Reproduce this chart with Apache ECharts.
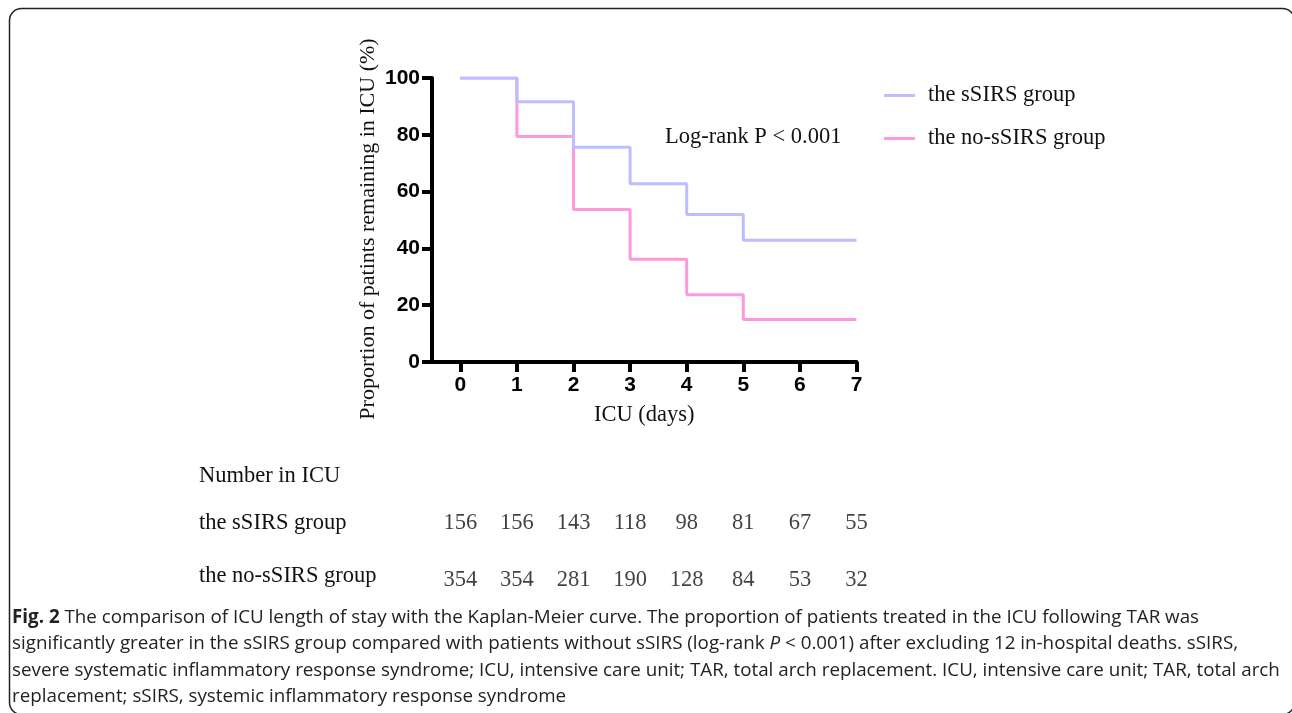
<!DOCTYPE html>
<html>
<head>
<meta charset="utf-8">
<script src="https://cdn.jsdelivr.net/npm/echarts@6/dist/echarts.min.js"></script>
<style>
html, body { margin: 0; padding: 0; background: #fff; }
#chart { width: 1292px; height: 713px; }
</style>
</head>
<body>
<div id="chart"></div>
<script>
// Kaplan-Meier: proportion still in ICU (%)
var days = [0, 1, 2, 3, 4, 5, 6, 7];
var ssirsCurve = [[0, 100], [1, 91.6], [2, 75.6], [3, 62.8], [4, 51.9], [5, 42.9], [7, 42.9]];
var noSsirsCurve = [[0, 100], [1, 79.4], [2, 53.7], [3, 36.2], [4, 23.7], [5, 15.0], [7, 15.0]];

// number at risk
var groups = ['the no-sSIRS group', 'the sSIRS group'];
var ssirsAtRisk = [156, 156, 143, 118, 98, 81, 67, 55];
var noSsirsAtRisk = [354, 354, 281, 190, 128, 84, 53, 32];

var serif = '"Liberation Serif", "Times New Roman", serif';
var sans = '"Liberation Sans", Arial, sans-serif';
var captionFont = '"Open Sans", sans-serif';

var captionLines = [
    '{b|Fig. 2} The comparison of ICU length of stay with the Kaplan-Meier curve. The proportion of patients treated in the ICU following TAR was',
    'significantly greater in the sSIRS group compared with patients without sSIRS (log-rank {i|P} < 0.001) after excluding 12 in-hospital deaths. sSIRS,',
    'severe systematic inflammatory response syndrome; ICU, intensive care unit; TAR, total arch replacement. ICU, intensive care unit; TAR, total arch',
    'replacement; sSIRS, systemic inflammatory response syndrome'
];

var atRiskPoints = function(values, row) {
    return values.map(function(v, i) {
        return { value: [days[i], row], label: { formatter: String(v) } };
    });
};

var chart = echarts.init(document.getElementById('chart'));

var option = {
    animation: false,
    backgroundColor: '#fff',
    legend: {
        data: ['the sSIRS group', 'the no-sSIRS group'],
        orient: 'vertical',
        left: 879,
        top: 79,
        icon: 'rect',
        itemWidth: 31,
        itemHeight: 3,
        itemGap: 20,
        textStyle: { fontFamily: serif, fontSize: 22.5, color: '#111', padding: [0, 0, 0, 8] }
    },
    grid: [
        { left: 432, top: 78, width: 424.5, height: 284 },
        { left: 432, top: 497, width: 424.5, height: 106 }
    ],
    xAxis: [
        {
            gridIndex: 0,
            type: 'value',
            min: -0.5,
            max: 7,
            splitLine: { show: false },
            axisLine: { onZero: false, lineStyle: { color: '#000', width: 4 } },
            axisTick: { customValues: days, length: 10, lineStyle: { color: '#000', width: 4 } },
            axisLabel: {
                customValues: days,
                color: '#000', fontFamily: sans, fontWeight: 'bold', fontSize: 21, margin: 13
            },
            name: 'ICU (days)',
            nameLocation: 'middle',
            nameGap: 42,
            nameTextStyle: { fontFamily: serif, fontSize: 22.5, color: '#111' }
        },
        {
            gridIndex: 1,
            type: 'value',
            min: -0.5,
            max: 7,
            show: false
        }
    ],
    yAxis: [
        {
            gridIndex: 0,
            type: 'value',
            min: 0,
            max: 100,
            interval: 20,
            splitLine: { show: false },
            axisLine: { show: true, onZero: false, lineStyle: { color: '#000', width: 4 } },
            axisTick: { show: true, length: 10, lineStyle: { color: '#000', width: 4 } },
            axisLabel: {
                color: '#000', fontFamily: sans, fontWeight: 'bold', fontSize: 21, margin: 12
            },
            name: 'Proportion of patints remaining in ICU (%)',
            nameLocation: 'middle',
            nameGap: 53,
            nameTextStyle: { fontFamily: serif, fontSize: 22, color: '#111', padding: [0, 18, 0, 0] }
        },
        {
            gridIndex: 1,
            type: 'category',
            data: groups,
            axisLine: { show: false },
            axisTick: { show: false },
            axisLabel: {
                align: 'left',
                margin: 233,
                fontFamily: serif, fontSize: 22.5, color: '#111'
            }
        }
    ],
    series: [
        {
            name: 'the no-sSIRS group',
            type: 'line',
            step: 'end',
            symbol: 'none',
            data: noSsirsCurve,
            itemStyle: { color: '#ff99dd' },
            lineStyle: { color: '#ff99dd', width: 3 },
            z: 2
        },
        {
            name: 'the sSIRS group',
            type: 'line',
            step: 'end',
            symbol: 'none',
            data: ssirsCurve,
            itemStyle: { color: '#bdbdff' },
            lineStyle: { color: '#bdbdff', width: 3 },
            z: 3
        },
        {
            type: 'scatter',
            xAxisIndex: 1,
            yAxisIndex: 1,
            symbolSize: 0,
            data: atRiskPoints(ssirsAtRisk, 1),
            label: { show: true, position: 'inside', fontFamily: serif, fontSize: 22.5, color: '#111' },
            silent: true
        },
        {
            type: 'scatter',
            xAxisIndex: 1,
            yAxisIndex: 1,
            symbolSize: 0,
            data: atRiskPoints(noSsirsAtRisk, 0),
            label: { show: true, position: 'inside', offset: [0, 4], fontFamily: serif, fontSize: 22.5, color: '#111' },
            silent: true
        }
    ],
    graphic: [
        {
            type: 'rect',
            shape: { x: 9.5, y: 8.5, width: 1285, height: 706, r: 12 },
            style: { fill: 'none', stroke: '#222', lineWidth: 1.5 },
            silent: true
        },
        {
            type: 'text',
            left: 665,
            top: 126,
            style: { text: 'Log-rank P < 0.001', fontFamily: serif, fontSize: 22.5, fill: '#111' }
        },
        {
            type: 'text',
            left: 199,
            top: 465,
            style: { text: 'Number in ICU', fontFamily: serif, fontSize: 22.5, fill: '#111' }
        },
        {
            type: 'text',
            left: 12,
            top: 604,
            style: {
                text: captionLines.join('\n'),
                fontFamily: captionFont,
                fontSize: 18.8,
                lineHeight: 26.5,
                fill: '#222',
                rich: {
                    b: { fontFamily: captionFont, fontWeight: 'bold', fontSize: 18.8, lineHeight: 26.5, fill: '#222' },
                    i: { fontFamily: captionFont, fontStyle: 'italic', fontSize: 18.8, lineHeight: 26.5, fill: '#222' }
                }
            }
        }
    ]
};

chart.setOption(option);
</script>
</body>
</html>
